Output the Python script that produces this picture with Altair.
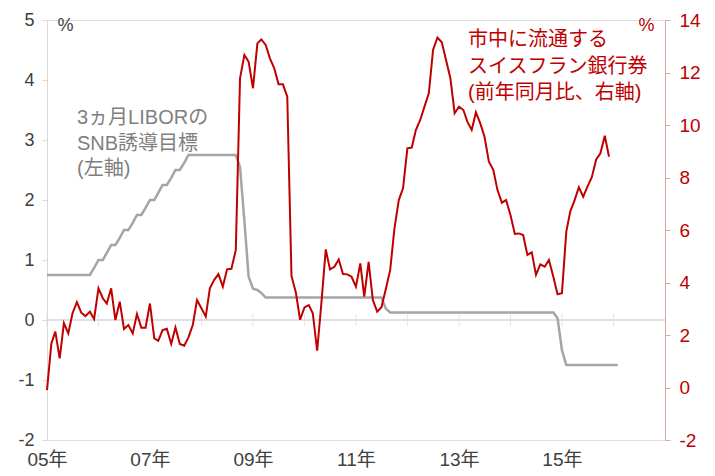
import altair as alt
import pandas as pd

# Monthly data, Jan 2005 onward
red_start = "2005-01-01"
red_values = [
    -0.10, 1.68, 2.13, 1.11, 2.45, 2.06, 2.83, 3.25, 2.85, 2.72, 2.89, 2.61,
    3.78, 3.40, 3.20, 3.78, 2.57, 3.27, 2.23, 2.38, 2.06, 2.80, 2.28, 2.28,
    3.20, 1.87, 1.78, 2.19, 2.24, 1.66, 2.29, 1.66, 1.59, 1.91, 2.38, 3.33,
    3.02, 2.70, 3.78, 4.10, 4.32, 3.84, 4.50, 4.52, 5.24, 11.78, 12.67, 12.41,
    11.40, 13.11, 13.26, 13.05, 12.54, 12.16, 11.55, 11.55, 11.08, 4.25, 3.62, 2.58,
    3.05, 3.14, 2.83, 1.40, 3.21, 5.26, 4.50, 4.60, 4.88, 4.32, 4.31, 4.22,
    3.84, 4.73, 3.46, 4.79, 3.33, 2.89, 3.06, 3.75, 4.48, 6.05, 7.14, 7.59,
    9.11, 9.14, 9.81, 10.19, 10.70, 11.21, 12.86, 13.33, 13.15, 12.48, 11.78, 10.45,
    10.70, 10.57, 10.13, 9.81, 10.48, 10.06, 9.55, 8.60, 8.29, 7.52, 7.04, 7.14,
    6.57, 5.85, 5.87, 5.81, 5.05, 5.15, 4.29, 4.69, 4.60, 4.86, 4.22, 3.55,
    3.59, 5.94, 6.70, 7.14, 7.63, 7.27, 7.65, 8.01, 8.69, 8.92, 9.59, 8.79,
]

gray_start = "2005-01-01"
gray_values = [
    # 2005
    0.75, 0.75, 0.75, 0.75, 0.75, 0.75, 0.75, 0.75, 0.75, 0.75, 0.75, 0.87,
    # 2006
    1.00, 1.00, 1.12, 1.25, 1.25, 1.37, 1.50, 1.50, 1.62, 1.75, 1.75, 1.87,
    # 2007
    2.00, 2.00, 2.12, 2.25, 2.25, 2.37, 2.50, 2.50, 2.62, 2.75, 2.75, 2.75,
    # 2008
    2.75, 2.75, 2.75, 2.75, 2.75, 2.75, 2.75, 2.75, 2.75, 2.55, 1.65, 0.72,
    # 2009
    0.52, 0.50, 0.45, 0.375, 0.375, 0.375, 0.375, 0.375, 0.375, 0.375, 0.375, 0.375,
    # 2010
    0.375, 0.375, 0.375, 0.375, 0.375, 0.375, 0.375, 0.375, 0.375, 0.375, 0.375, 0.375,
    # 2011
    0.375, 0.375, 0.375, 0.375, 0.375, 0.375, 0.375, 0.19, 0.125, 0.125, 0.125, 0.125,
    # 2012
    0.125, 0.125, 0.125, 0.125, 0.125, 0.125, 0.125, 0.125, 0.125, 0.125, 0.125, 0.125,
    # 2013
    0.125, 0.125, 0.125, 0.125, 0.125, 0.125, 0.125, 0.125, 0.125, 0.125, 0.125, 0.125,
    # 2014
    0.125, 0.125, 0.125, 0.125, 0.125, 0.125, 0.125, 0.125, 0.125, 0.125, 0.125, 0.03,
    # 2015
    -0.50, -0.75, -0.75, -0.75, -0.75, -0.75, -0.75, -0.75, -0.75, -0.75, -0.75, -0.75,
    # 2016
    -0.75, -0.75,
]

tick_years = [2005, 2006, 2007, 2008, 2009, 2010, 2011, 2012, 2013, 2014, 2015, 2016]
label_years = [2005, 2007, 2009, 2011, 2013, 2015]
left_ticks = [-2, -1, 0, 1, 2, 3, 4, 5]
right_ticks = [-2, 0, 2, 4, 6, 8, 10, 12, 14]

gray_label = ["3ヵ月LIBORの", "SNB誘導目標", "(左軸)"]
red_label = ["市中に流通する", "スイスフラン銀行券", "(前年同月比、右軸)"]

RED = "#C00000"
GRAY_LINE = "#A5A5A5"
GRAY_TEXT = "#7F7F7F"
DARK = "#404040"
LIGHT = "#D9D9D9"
FONT = "'Liberation Sans', Arial, 'Noto Sans CJK JP', sans-serif"

red_df = pd.DataFrame({
    "date": pd.date_range(red_start, periods=len(red_values), freq="MS").strftime("%Y-%m-%d"),
    "v": red_values,
})
gray_df = pd.DataFrame({
    "date": pd.date_range(gray_start, periods=len(gray_values), freq="MS").strftime("%Y-%m-%d"),
    "v": gray_values,
})
tick_df = pd.DataFrame({"date": [f"{y}-01-01" for y in tick_years], "v": [0] * len(tick_years)})
zero_df = pd.DataFrame({"v": [0]})
one_df = pd.DataFrame({"a": [0]})

x_scale = alt.Scale(
    type="utc",
    domain=[alt.DateTime(year=2005, month=1, date=1, utc=True),
            alt.DateTime(year=2017, month=1, date=1, utc=True)],
)
x_axis = alt.Axis(
    values=[alt.DateTime(year=y, month=1, date=1, utc=True) for y in label_years],
    format="%y年", domain=False, ticks=False, grid=False, labelFlush=False,
    labelColor=DARK, labelFontSize=19, labelPadding=10, labelFont=FONT,
    title=None,
)
x_enc = alt.X("date:T", scale=x_scale, axis=x_axis)

left_scale = alt.Scale(domain=[-2, 5], nice=False, zero=False)
left_axis = alt.Axis(
    orient="left", values=left_ticks, grid=False, labelExpr="'' + datum.value",
    domainColor=LIGHT, tickColor=LIGHT, tickSize=5,
    labelColor=DARK, labelFontSize=18, labelPadding=8, labelFont=FONT,
    title="%", titleAngle=0, titleX=10, titleY=5, titleAlign="left",
    titleBaseline="middle", titleFontSize=18, titleFontWeight="normal",
    titleColor=DARK, titleFont=FONT,
)
y_left = alt.Y("v:Q", scale=left_scale, axis=left_axis)

right_scale = alt.Scale(domain=[-2, 14], nice=False, zero=False)
right_axis = alt.Axis(
    orient="right", values=right_ticks, grid=False, labelExpr="'' + datum.value",
    domainColor="#E3A3A3", tickColor="#E3A3A3", tickSize=5,
    labelColor=RED, labelFontSize=19, labelPadding=9, labelFont=FONT,
    title="%", titleAngle=0, titleX=-27, titleY=5, titleAlign="left",
    titleBaseline="middle", titleFontSize=18, titleFontWeight="normal",
    titleColor=RED, titleFont=FONT,
)
y_right = alt.Y("v:Q", scale=right_scale, axis=right_axis)

zero_line = alt.Chart(zero_df).mark_rule(color=LIGHT, strokeWidth=1.5).encode(y=y_left)
year_ticks = alt.Chart(tick_df).mark_tick(
    orient="vertical", size=12, thickness=1, color=LIGHT
).encode(x=x_enc, y=y_left)
gray_line = alt.Chart(gray_df).mark_line(
    color=GRAY_LINE, strokeWidth=2.5, interpolate="linear"
).encode(x=x_enc, y=y_left)
gray_text = alt.Chart(one_df).mark_text(
    text=gray_label, align="left", baseline="top", fontSize=20,
    lineHeight=25.5, color=GRAY_TEXT, font=FONT,
).encode(x=alt.value(30), y=alt.value(88))

left = alt.layer(zero_line, year_ticks, gray_line, gray_text)

red_line = alt.Chart(red_df).mark_line(
    color=RED, strokeWidth=2, interpolate="linear"
).encode(x=x_enc, y=y_right)
red_text = alt.Chart(one_df).mark_text(
    text=red_label, align="left", baseline="top", fontSize=20,
    lineHeight=26.5, color=RED, font=FONT,
).encode(x=alt.value(421), y=alt.value(10))

right = alt.layer(red_line, red_text)

chart = alt.layer(left, right).resolve_scale(y="independent").properties(
    width=618, height=420,
    padding={"left": 47, "top": 20, "right": 50, "bottom": 36},
    autosize=alt.AutoSizeParams(type="none"),
).configure_view(stroke=None).configure(font=FONT)

chart.save("out.html", embed_options={"renderer": "svg", "actions": False})
